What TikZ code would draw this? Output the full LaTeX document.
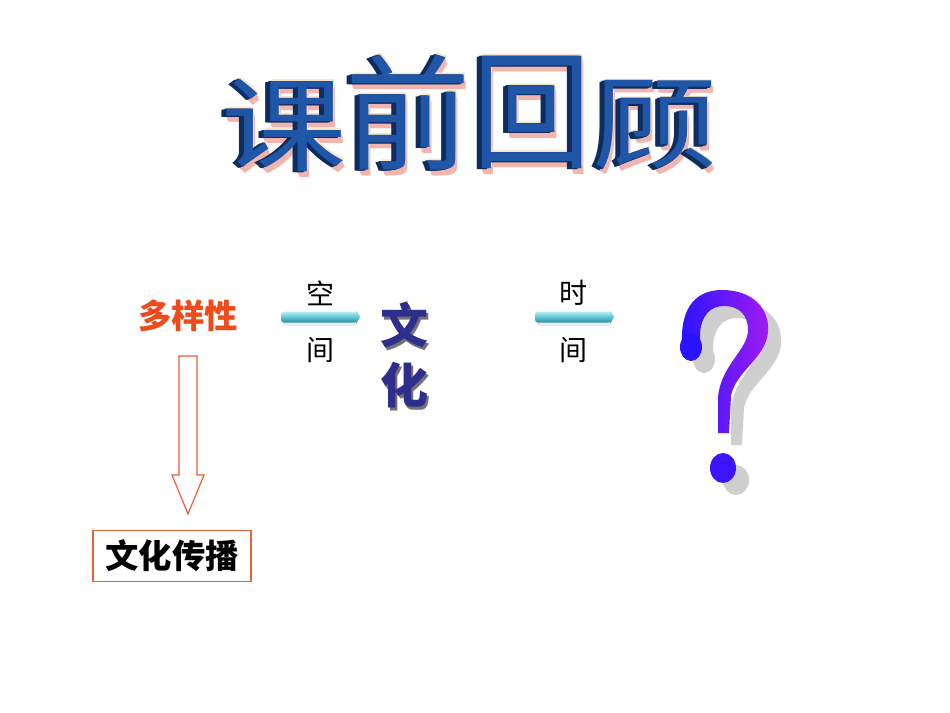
\documentclass[tikz,border=0pt]{standalone}
\usepackage{fontspec}
\newfontfamily\cjk{Noto Sans CJK SC}
\usetikzlibrary{calc}
\definecolor{orangered}{HTML}{EE4B1C}
\definecolor{arrowline}{HTML}{E8603A}
\definecolor{wenhua}{HTML}{2E2E8C}
\definecolor{tface}{HTML}{1F56A8}
\definecolor{tside}{HTML}{0E2C5E}
\definecolor{tpink}{HTML}{F2B4AC}
\definecolor{tcream}{HTML}{F6E6C8}
\definecolor{cyantop}{HTML}{B8F0F6}
\definecolor{cyanmid}{HTML}{5CC6D6}
\definecolor{cyanbot}{HTML}{2E8C9C}
\definecolor{qblue}{HTML}{2A14FF}
\definecolor{qviolet}{HTML}{A21CF0}
\definecolor{qshadow}{HTML}{CFCFCF}
\newcommand\ttlchar[6]{% x, y, xscale, yscale, char, name
  \foreach \k in {6,5,...,1}{
    \node[ttl, text=tpink] at (#1+0.3*\k, #2+\k) {\scalebox{#3}[#4]{#5}};
  }
  \node[ttl, text=tcream] at (#1+0.8, #2-1.5) {\scalebox{#3}[#4]{#5}};
  \foreach \k in {5,4,3,2,1}{
    \node[ttl, text=tside] at (#1-\k, #2+0.3*\k) {\scalebox{#3}[#4]{#5}};
  }
  \node[ttl, text=tface] (#6) at (#1, #2) {\scalebox{#3}[#4]{#5}};
}
\begin{document}
\begin{tikzpicture}[x=0.75pt,y=-0.75pt,
  ttl/.style={font=\cjk\fontsize{94}{94}\selectfont, inner sep=0pt, anchor=center},
  lbl/.style={font=\cjk\fontsize{21}{21}\selectfont, text=black, inner sep=0pt},
  wh/.style={font=\cjk\bfseries\fontsize{36}{36}\selectfont, inner sep=0pt},
  hollow/.style={draw=arrowline, line width=0.9pt, fill=white, line join=miter}]
\useasboundingbox (0,0) rectangle (950,713);
\fill[white] (0,0) rectangle (950,713);

% title
\ttlchar{284}{125}{1.0}{0.82}{课}{t1}
\ttlchar{408}{112}{1.0}{1.0}{前}{t2}
\ttlchar{532}{112}{0.95}{1.02}{回}{t3}
\ttlchar{655}{125}{1.0}{0.8}{顾}{t4}

% left column
\node[font=\cjk\bfseries\fontsize{25}{25}\selectfont, text=orangered, inner sep=0pt] (dyx) at (188,316) {多样性};
\coordinate (d1) at (188,356);
\coordinate (d2) at (188,514);
\draw[hollow] ($(d1)+(-9,0)$) -- ($(d1)+(9,0)$) -- ($(d1)+(9,119)$) -- ($(d1)+(16,119)$)
  -- (d2) -- ($(d1)+(-16,119)$) -- ($(d1)+(-9,119)$) -- cycle;
\node[draw=arrowline, line width=0.9pt, minimum width=118.5pt, minimum height=38pt,
  font=\cjk\bfseries\fontsize{25}{25}\selectfont, inner sep=0pt] (box) at (172,556) {文化传播};

% space arrow
\coordinate (a1s) at (281,317);
\coordinate (a1e) at (360,317);
\fill[black!8] ($(a1s)+(2,5)$) rectangle ($(a1e)+(-4,9)$);
\shade[top color=cyantop, bottom color=cyanbot, middle color=cyanmid, rounded corners=2pt]
  ($(a1s)+(0,-5.5)$) rectangle ($(a1e)+(-3,5.5)$);
\shade[top color=cyantop, bottom color=cyanbot, middle color=cyanmid]
  ($(a1e)+(-4,-7)$) -- (a1e) -- ($(a1e)+(-4,7)$) -- cycle;
\node[lbl] (k1) at (320,293) {空};
\node[lbl] (j1) at (320,350) {间};

% culture
\node[wh, text=black!55] at (406,328) {文};
\node[wh, text=wenhua] (wen) at (404,325) {文};
\node[wh, text=black!55] at (406,388) {化};
\node[wh, text=wenhua] (hua) at (404,385) {化};

% time arrow
\coordinate (a2s) at (535,317);
\coordinate (a2e) at (614,317);
\fill[black!8] ($(a2s)+(2,5)$) rectangle ($(a2e)+(-4,9)$);
\shade[top color=cyantop, bottom color=cyanbot, middle color=cyanmid, rounded corners=2pt]
  ($(a2s)+(0,-5.5)$) rectangle ($(a2e)+(-3,5.5)$);
\shade[top color=cyantop, bottom color=cyanbot, middle color=cyanmid]
  ($(a2e)+(-4,-7)$) -- (a2e) -- ($(a2e)+(-4,7)$) -- cycle;
\node[lbl] (s2) at (573,293) {时};
\node[lbl] (j2) at (573,350) {间};

% question mark
\begin{scope}[shift={(13,12)}]
  \fill[qshadow] (682,345) .. controls (680,305) and (698,290) .. (722,290)
    .. controls (752,290) and (770,308) .. (768,332)
    .. controls (766,358) and (735,372) .. (731,396) -- (729,433) -- (718,433) -- (718,398)
    .. controls (720,366) and (748,350) .. (748,330)
    .. controls (748,314) and (738,306) .. (724,306)
    .. controls (710,306) and (701,316) .. (700,334) -- (700,346) -- cycle;
  \fill[qshadow] (691,347) ellipse [x radius=11, y radius=14];
  \fill[qshadow] (723,468) ellipse [x radius=13, y radius=15];
\end{scope}
\shade[left color=qblue, right color=qviolet]
  (682,345) .. controls (680,305) and (698,290) .. (722,290)
    .. controls (752,290) and (770,308) .. (768,332)
    .. controls (766,358) and (735,372) .. (731,396) -- (729,433) -- (718,433) -- (718,398)
    .. controls (720,366) and (748,350) .. (748,330)
    .. controls (748,314) and (738,306) .. (724,306)
    .. controls (710,306) and (701,316) .. (700,334) -- (700,346) -- cycle;
\fill[qblue] (691,347) ellipse [x radius=11, y radius=14];
\fill[qblue!85!qviolet] (723,468) ellipse [x radius=13, y radius=15];
\end{tikzpicture}
\end{document}
